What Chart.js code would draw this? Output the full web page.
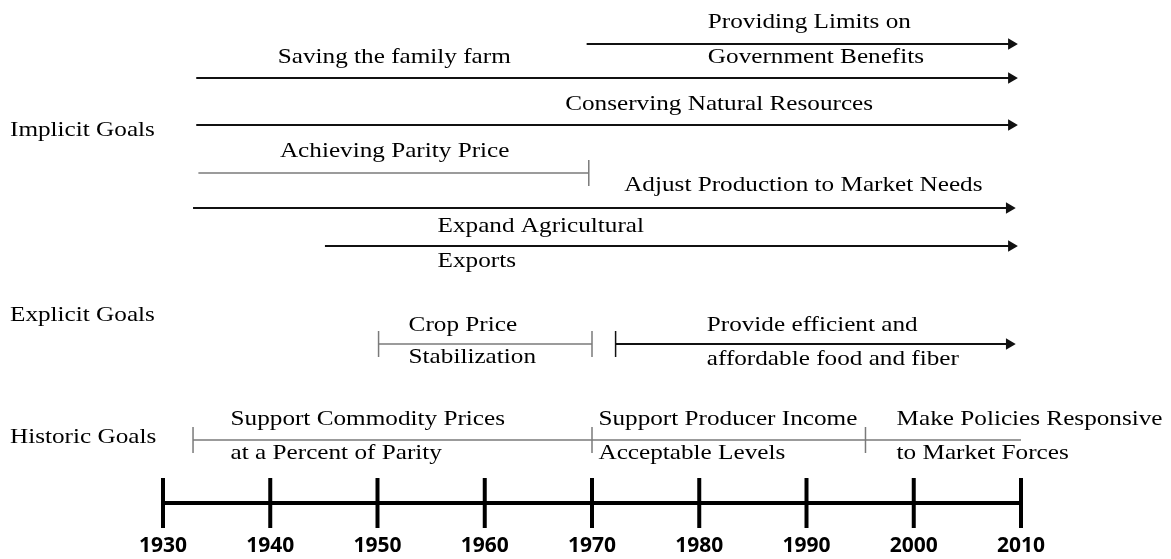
<!DOCTYPE html>
<html>
<head>
<meta charset="utf-8">
<script src="https://cdn.jsdelivr.net/npm/chart.js@4"></script>
<style>
  html, body { margin: 0; padding: 0; background: #fff; }
  #wrap { width: 1171px; height: 559px; position: relative; }
</style>
</head>
<body>
<div id="wrap"><canvas id="c"></canvas></div>
<script>
// ---- Data ----
// Timeline ticks (years)
const tickYears = [1930, 1940, 1950, 1960, 1970, 1980, 1990, 2000, 2010];
const axisLane = 50.3;

// Goal segments
const goalNames  = ['Providing Limits on Government Benefits', 'Saving the family farm', 'Conserving Natural Resources',
                    'Achieving Parity Price', 'Adjust Production to Market Needs', 'Expand Agricultural Exports',
                    'Crop Price Stabilization', 'Provide efficient and affordable food and fiber',
                    'Support Commodity Prices at a Percent of Parity', 'Support Producer Income Acceptable Levels',
                    'Make Policies Responsive to Market Forces'];
const goalStart  = [1969.5, 1933.1, 1933.1, 1933.3, 1932.8, 1945.1, 1950.1, 1972.2, 1932.8, 1970.0, 1995.5];
const goalEnd    = [2009.1, 2009.1, 2009.1, 1969.7, 2008.9, 2009.1, 1970.0, 2008.9, 1970.0, 1995.5, 2010.0];
const goalLane   = [4.4, 7.8, 12.5, 17.3, 20.8, 24.6, 34.4, 34.4, 44.0, 44.0, 44.0];
const goalStartCap = ['none', 'none', 'none', 'none', 'none', 'none', 'bar', 'bar', 'bar', 'bar', 'bar'];
const goalEndCap   = ['arrow', 'arrow', 'arrow', 'bar', 'arrow', 'arrow', 'bar', 'arrow', 'none', 'none', 'none'];

// Row (group) labels
const rowLabels = ['Implicit Goals', 'Explicit Goals', 'Historic Goals'];
const rowLanes  = [13.0, 31.5, 43.7];

// Text annotations: text, left-edge year, lane
const noteTexts = ['Providing Limits on', 'Government Benefits', 'Saving the family farm', 'Conserving Natural Resources',
                   'Achieving Parity Price', 'Adjust Production to Market Needs', 'Expand Agricultural', 'Exports',
                   'Crop Price', 'Stabilization', 'Provide efficient and', 'affordable food and fiber',
                   'Support Commodity Prices', 'at a Percent of Parity', 'Support Producer Income', 'Acceptable Levels',
                   'Make Policies Responsive', 'to Market Forces'];
const noteYears = [1980.8, 1980.8, 1940.7, 1967.5, 1940.9, 1973.0, 1955.6, 1955.6,
                   1952.9, 1952.9, 1980.7, 1980.7, 1936.3, 1936.3, 1970.6, 1970.6, 1998.4, 1998.4];
const noteLanes = [2.2, 5.7, 5.7, 10.4, 15.1, 18.5, 22.6, 26.1,
                   32.5, 35.7, 32.5, 35.9, 41.9, 45.3, 41.9, 45.3, 41.9, 45.3];

// ---- Build datasets ----
function capStyle(cap) {
  if (cap === 'arrow') return { style: 'triangle', radius: 5, rotation: 90 };
  if (cap === 'bar') return { style: 'line', radius: 13, rotation: 90 };
  return { style: 'circle', radius: 0, rotation: 0 };
}

const datasets = goalNames.map((name, i) => {
  const caps = [capStyle(goalStartCap[i]), capStyle(goalEndCap[i])];
  const dark = goalEndCap[i] === 'arrow';
  const col = dark ? '#111111' : '#7a7a7a';
  return {
    label: name,
    data: [{ x: goalStart[i], y: goalLane[i] }, { x: goalEnd[i], y: goalLane[i] }],
    showLine: true,
    borderColor: col,
    borderWidth: dark ? 2 : 1.5,
    backgroundColor: col,
    pointStyle: ctx => caps[ctx.dataIndex].style,
    pointRadius: ctx => caps[ctx.dataIndex].radius,
    pointRotation: ctx => caps[ctx.dataIndex].rotation,
    pointBorderColor: col,
    pointBackgroundColor: col,
    pointBorderWidth: 1.5,
    clip: false
  };
});

datasets.push({
  label: 'Timeline',
  data: tickYears.map(y => ({ x: y, y: axisLane })),
  showLine: true,
  borderColor: '#000',
  borderWidth: 4,
  pointStyle: 'line',
  pointRadius: 25,
  pointRotation: 90,
  pointBorderColor: '#000',
  pointBorderWidth: 4,
  clip: false
});

const SERIF = '21px "Liberation Serif", "Times New Roman", serif';
const STRETCH = 1.2;

const textPlugin = {
  id: 'goalText',
  afterDatasetsDraw(chart) {
    const ctx = chart.ctx;
    const xs = chart.scales.x, ys = chart.scales.y;
    ctx.save();
    ctx.fillStyle = '#000';
    ctx.font = SERIF;
    ctx.textAlign = 'left';
    ctx.textBaseline = 'middle';
    const draw = (t, px, py) => {
      ctx.save();
      ctx.translate(px, py);
      ctx.scale(STRETCH, 1);
      ctx.fillText(t, 0, 0);
      ctx.restore();
    };
    noteTexts.forEach((t, i) => draw(t, xs.getPixelForValue(noteYears[i]), ys.getPixelForValue(noteLanes[i])));
    rowLabels.forEach((t, i) => draw(t, 10, ys.getPixelForValue(rowLanes[i])));
    ctx.restore();
  }
};

new Chart(document.getElementById('c'), {
  type: 'scatter',
  data: { datasets },
  options: {
    responsive: true,
    maintainAspectRatio: false,
    animation: false,
    events: [],
    layout: { autoPadding: false, padding: { left: 163, right: 150, top: 0, bottom: 0 } },
    plugins: { legend: { display: false }, tooltip: { enabled: false } },
    scales: {
      x: {
        type: 'linear',
        min: 1930,
        max: 2010,
        afterBuildTicks: s => { s.ticks = tickYears.map(v => ({ value: v })); },
        afterFit: s => { s.height = 29; },
        ticks: {
          callback: v => String(v),
          color: '#000',
          padding: 3,
          maxRotation: 0,
          autoSkip: false,
          font: { family: '"Open Sans", "Liberation Sans", sans-serif', size: 21, weight: 'bold' }
        },
        grid: { display: false, drawTicks: false },
        border: { display: false }
      },
      y: {
        type: 'linear',
        min: 0,
        max: 53,
        reverse: true,
        display: false
      }
    }
  },
  plugins: [textPlugin]
});
</script>
</body>
</html>
